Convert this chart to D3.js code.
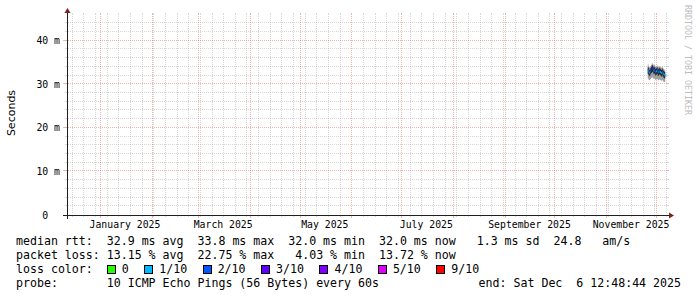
<!doctype html>
<html lang="en">
<head>
	<meta charset="UTF-8">
	<title>smokeping</title>
	<script src="https://cdn.jsdelivr.net/npm/d3@7"></script>
	<style>
		body { margin: 0; background: #fff; }
		svg text { white-space: pre; }
	</style>
</head>
<body>
<div id="container"></div>
<script>
	var width = 697, height = 297;
	var margin = {left: 67, top: 15, right: 30, bottom: 82};
	var g_width = width - margin.left - margin.right;   // 600
	var g_height = height - margin.top - margin.bottom; // 200

	// samples (12 h steps) at the end of the period
	var times = ["2025-11-26 00:00", "2025-11-26 12:00", "2025-11-27 00:00", "2025-11-27 12:00",
		"2025-11-28 00:00", "2025-11-28 12:00", "2025-11-29 00:00", "2025-11-29 12:00",
		"2025-11-30 00:00", "2025-11-30 12:00", "2025-12-01 00:00", "2025-12-01 12:00",
		"2025-12-02 00:00", "2025-12-02 12:00", "2025-12-03 00:00", "2025-12-03 12:00",
		"2025-12-04 00:00", "2025-12-04 12:00", "2025-12-05 00:00", "2025-12-05 12:00",
		"2025-12-06 00:00", "2025-12-06 12:00"];
	// ms
	var median = [33.2, 32.9, 32.6, 33.0, 33.4, 33.8, 33.5, 33.1, 33.3, 32.8, 33.0,
		33.2, 32.7, 32.9, 33.1, 32.8, 32.6, 32.9, 32.5, 32.3, 32.1, 32.0];
	var smokeMin = [31.3, 31.0, 30.9, 31.2, 31.5, 31.6, 31.4, 31.2, 31.3, 31.0, 31.1,
		31.2, 30.9, 31.0, 31.1, 30.9, 30.8, 31.0, 30.7, 30.6, 30.5, 30.4];
	var smokeQ1 = [32.4, 32.1, 31.9, 32.3, 32.6, 32.9, 32.7, 32.3, 32.5, 32.0, 32.2,
		32.4, 31.9, 32.1, 32.3, 32.0, 31.8, 32.1, 31.7, 31.5, 31.3, 31.1];
	var smokeQ3 = [33.9, 33.6, 33.3, 33.7, 34.0, 34.4, 34.1, 33.8, 34.0, 33.5, 33.7,
		33.9, 33.4, 33.6, 33.8, 33.5, 33.3, 33.6, 33.2, 33.0, 32.8, 32.6];
	var smokeMax = [34.6, 34.1, 33.9, 34.2, 34.5, 34.8, 34.6, 34.3, 34.4, 34.0, 34.2,
		34.3, 33.9, 34.0, 34.2, 33.9, 33.8, 34.0, 33.7, 33.5, 33.2, 32.9];
	// lost pings out of 10
	var loss = [1, 1, 1, 2, 3, 3, 2, 1, 2, 2, 1, 2, 2, 1, 2, 1, 1, 2, 1, 1, 1, 1];

	var yTicks = [0, 10, 20, 30, 40];
	var lossLevels = [0, 1, 2, 3, 4, 5, 9];
	var lossLabels = ["0", "1/10", "2/10", "3/10", "4/10", "5/10", "9/10"];
	var lossColors = ["#26ff00", "#00b8ff", "#0059ff", "#5e00ff", "#7e00ff", "#dd00ff", "#ff0000"];

	var legendLines = [
		"median rtt:  32.9 ms avg  33.8 ms max  32.0 ms min  32.0 ms now   1.3 ms sd  24.8   am/s",
		"packet loss: 13.15 % avg  22.75 % max   4.03 % min  13.72 % now",
		"loss color:",
		"probe:       10 ICMP Echo Pings (56 Bytes) every 60s"
	];
	var endText = "end: Sat Dec  6 12:48:44 2025";

	var parse = d3.timeParse("%Y-%m-%d %H:%M");
	var data = times.map(function (t, i) {
		return {t: parse(t), med: median[i], lo: smokeMin[i], q1: smokeQ1[i],
			q3: smokeQ3[i], hi: smokeMax[i], loss: loss[i]};
	});

	var t0 = new Date(2024, 11, 12, 4, 20), t1 = new Date(2025, 11, 7, 14, 0);
	var scale_x = d3.scaleTime().domain([t0, t1]).range([0, g_width]);
	var scale_y = d3.scaleLinear().domain([0, 45.9]).range([g_height, 0]);

	var gridCol = "rgba(143,143,143,0.36)";
	var mgridCol = "rgba(222,79,79,0.44)";
	var mono = "'DejaVu Sans Mono', monospace";

	var svg = d3.select("#container").append("svg")
			.attr("width", width).attr("height", height)
			.style("display", "block");
	svg.append("rect").attr("width", width).attr("height", height).attr("fill", "#fff");

	var g = svg.append("g").attr("transform", "translate(" + margin.left + "," + margin.top + ")");

	// vertical grid
	var months = d3.timeMonth.range(t0, t1);
	var weeks = d3.timeSunday.range(t0, t1).filter(function (d) { return d.getDate() !== 1; });
	function px(v) { return Math.round(v) + 0.5; }

	var vg = g.append("g");
	weeks.forEach(function (d) {
		var x = px(scale_x(d));
		vg.append("line").attr("x1", x).attr("x2", x).attr("y1", 1).attr("y2", g_height - 1)
			.attr("stroke", gridCol).attr("stroke-dasharray", "1,1");
		vg.append("line").attr("x1", x).attr("x2", x).attr("y1", -2).attr("y2", 0).attr("stroke", gridCol);
		vg.append("line").attr("x1", x).attr("x2", x).attr("y1", g_height).attr("y2", g_height + 2).attr("stroke", gridCol);
	});
	months.forEach(function (d) {
		var x = px(scale_x(d));
		vg.append("line").attr("x1", x).attr("x2", x).attr("y1", 1).attr("y2", g_height - 1)
			.attr("stroke", mgridCol).attr("stroke-dasharray", "1,1");
		vg.append("line").attr("x1", x).attr("x2", x).attr("y1", -2).attr("y2", 0).attr("stroke", mgridCol);
		vg.append("line").attr("x1", x).attr("x2", x).attr("y1", g_height).attr("y2", g_height + 3).attr("stroke", mgridCol);
	});

	// horizontal grid
	var hg = g.append("g");
	d3.range(2, 45, 2).forEach(function (v) {
		var y = px(scale_y(v)) - 1;
		var major = v % 10 === 0;
		var c = major ? mgridCol : gridCol;
		hg.append("line").attr("x1", 1).attr("x2", g_width).attr("y1", y).attr("y2", y)
			.attr("stroke", c).attr("stroke-dasharray", "1,1");
		hg.append("line").attr("x1", major ? -4 : -2).attr("x2", 0).attr("y1", y).attr("y2", y).attr("stroke", c);
		hg.append("line").attr("x1", g_width).attr("x2", g_width + 2).attr("y1", y).attr("y2", y).attr("stroke", c);
	});

	// month labels, every second month, centred half a month in
	var labelMonths = d3.timeMonth.every(2).range(new Date(2025, 0, 1), t1);
	var fmt = d3.timeFormat("%B %Y");
	g.append("g").selectAll("text").data(labelMonths).enter().append("text")
		.attr("x", function (d) { return scale_x(d3.timeDay.offset(d, 15)); })
		.attr("y", g_height + 13)
		.attr("text-anchor", "middle")
		.attr("font-family", mono).attr("font-size", "9.8px").attr("fill", "#000")
		.text(fmt);

	// y labels
	g.append("g").selectAll("text").data(yTicks).enter().append("text")
		.attr("x", -7)
		.attr("y", function (d) { return scale_y(d) + 3.6; })
		.attr("text-anchor", "end")
		.attr("font-family", mono).attr("font-size", "9.8px").attr("fill", "#000")
		.text(function (d) { return d === 0 ? "0  " : d + " m"; });

	// smoke
	var area = function (a, b) {
		return d3.area().curve(d3.curveStepAfter)
			.x(function (d) { return scale_x(d.t); })
			.y0(function (d) { return scale_y(d[a]); })
			.y1(function (d) { return scale_y(d[b]); });
	};
	g.append("path").attr("d", area("lo", "hi")(data)).attr("fill", "#a0a0a0");
	g.append("path").attr("d", area("q1", "q3")(data)).attr("fill", "#262626");

	// median coloured by loss
	var colorOf = d3.scaleOrdinal().domain(lossLevels).range(lossColors);
	for (var i = 0; i < data.length; i++) {
		var xa = scale_x(data[i].t);
		var xb = i < data.length - 1 ? scale_x(data[i + 1].t) : xa + 1;
		var ym = scale_y(data[i].med);
		g.append("line").attr("x1", xa).attr("x2", xb).attr("y1", ym).attr("y2", ym)
			.attr("stroke", colorOf(data[i].loss)).attr("stroke-width", 2);
	}

	// axes
	var axisCol = "#1f1f1f", arrowCol = "#801f1f";
	g.append("line").attr("x1", -4).attr("x2", g_width + 4)
		.attr("y1", g_height + 0.5).attr("y2", g_height + 0.5).attr("stroke", axisCol);
	g.append("line").attr("x1", 0.5).attr("x2", 0.5)
		.attr("y1", g_height + 4).attr("y2", -4).attr("stroke", axisCol);
	g.append("path").attr("d", "M" + (g_width + 2) + "," + (g_height - 2.5) + "L" + (g_width + 2) + "," + (g_height + 3.5) +
		"L" + (g_width + 7) + "," + (g_height + 0.5) + "Z").attr("fill", arrowCol);
	g.append("path").attr("d", "M-2.5,-2L3.5,-2L0.5,-7Z").attr("fill", arrowCol);

	// unit label
	svg.append("text")
		.attr("transform", "translate(15," + (margin.top + g_height / 2 - 2) + ") rotate(-90)")
		.attr("text-anchor", "middle")
		.attr("font-family", "'DejaVu Sans', sans-serif").attr("font-size", "11px").attr("fill", "#000")
		.text("Seconds");

	// watermark
	svg.append("text")
		.attr("transform", "translate(684.5,5) rotate(90)")
		.attr("font-family", mono).attr("font-size", "8.3px").attr("fill", "#bdbdbd")
		.text("RRDTOOL / TOBI OETIKER");

	// legend
	var lx = 16, ly = 244.5, lh = 14, cw = 6.98;
	var leg = svg.append("g").attr("font-family", mono).attr("font-size", "11.6px").attr("fill", "#000");
	legendLines.forEach(function (s, i) {
		leg.append("text").attr("x", lx).attr("y", ly + i * lh).text(s);
	});
	leg.append("text").attr("x", 681).attr("y", ly + 3 * lh).attr("text-anchor", "end").text(endText);

	var bx = lx + 13 * cw;
	lossLabels.forEach(function (s, i) {
		leg.append("rect").attr("x", Math.round(bx) + 0.5).attr("y", 265.5).attr("width", 8).attr("height", 8)
			.attr("fill", lossColors[i]).attr("stroke", "#000");
		leg.append("text").attr("x", bx + 15).attr("y", ly + 2 * lh).text(s);
		bx += 15 + s.length * cw + 15.5;
	});
</script>
</body>
</html>
